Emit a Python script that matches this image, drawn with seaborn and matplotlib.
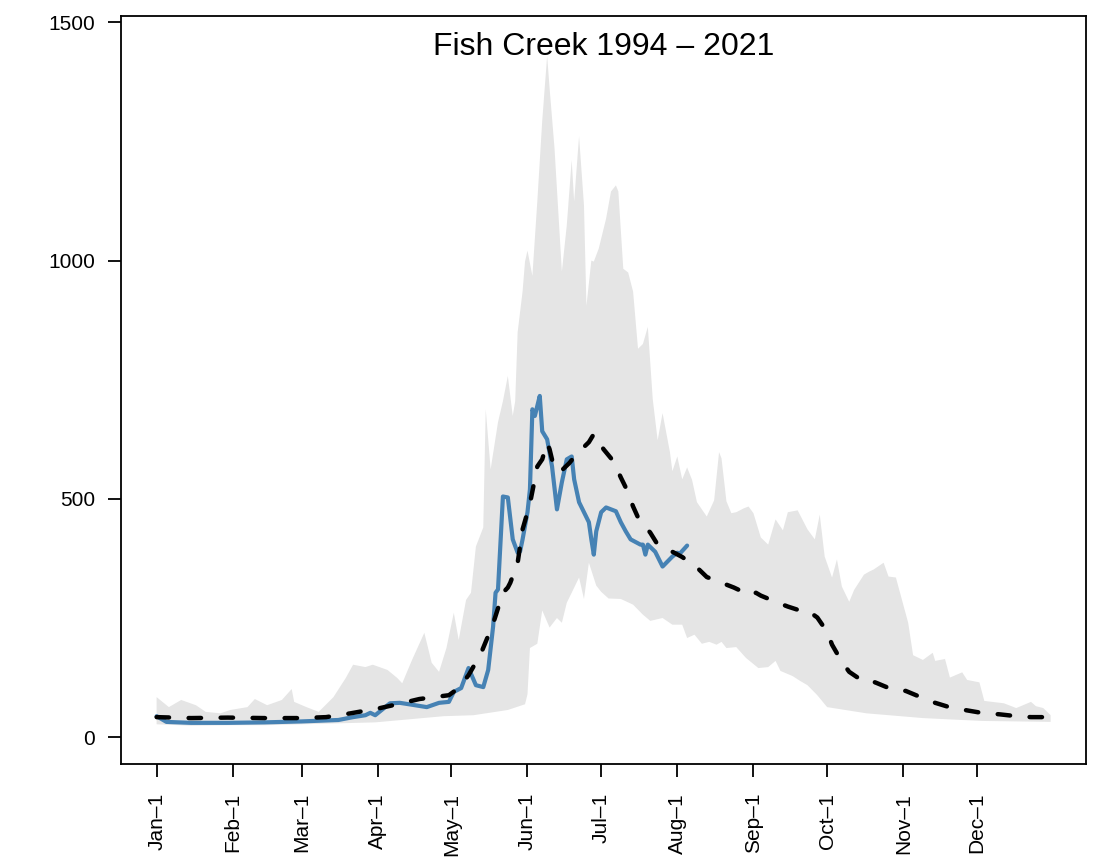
import matplotlib
matplotlib.use("Agg")
import matplotlib.pyplot as plt
import numpy as np
import pandas as pd
import seaborn as sns

# ---------------- data (day of year, discharge) ----------------
band_upper = [
    (1, 84), (6, 63), (11, 78), (17, 67), (21, 53), (27, 50), (31, 57), (38, 63),
    (41, 80), (46, 67), (52, 78), (56, 101), (57, 74), (62, 63), (67, 53), (73, 84),
    (78, 124), (81, 152), (86, 147), (89, 152), (95, 141), (99, 124), (101, 113),
    (105, 162), (110, 219), (113, 156), (116, 137), (119, 187), (122, 261), (124, 204),
    (127, 288), (129, 303), (131, 400), (134, 440), (135, 688), (137, 562), (140, 661),
    (142, 705), (144, 758), (146, 674), (147, 705), (148, 850), (150, 935), (151, 998),
    (152, 1021), (154, 968), (156, 1124), (158, 1293), (160, 1429), (161, 1362),
    (163, 1236), (166, 977), (168, 1074), (170, 1211), (171, 1124), (173, 1261),
    (175, 1116), (176, 905), (178, 1000), (179, 998), (181, 1025), (184, 1088),
    (186, 1145), (188, 1158), (189, 1145), (191, 983), (193, 975), (195, 935),
    (197, 815), (199, 825), (201, 861), (203, 709), (205, 623), (207, 680),
    (210, 598), (211, 558), (213, 589), (215, 541), (217, 566), (219, 540),
    (221, 493), (225, 463), (228, 497), (230, 598), (231, 585), (233, 495),
    (235, 470), (237, 472), (240, 480), (242, 484), (244, 470), (247, 419),
    (250, 404), (253, 457), (256, 434), (258, 472), (262, 476), (266, 436),
    (269, 415), (271, 467), (273, 379), (276, 335), (278, 373), (280, 316),
    (283, 284), (285, 309), (289, 341), (291, 347), (293, 352), (297, 366),
    (299, 337), (302, 335), (305, 278), (307, 240), (309, 172), (313, 162),
    (317, 177), (318, 160), (322, 164), (324, 125), (329, 136), (331, 120),
    (336, 115), (338, 76), (346, 71), (351, 61), (357, 74), (359, 65), (362, 61),
    (365, 46),
]

band_lower = [
    (1, 27), (15, 24), (31, 25), (45, 25), (60, 27), (75, 29), (90, 31), (105, 38),
    (118, 44), (130, 46), (144, 57), (151, 69), (152, 90), (153, 187), (156, 196),
    (158, 266), (161, 230), (164, 250), (166, 240), (168, 282), (170, 303),
    (173, 335), (175, 290), (177, 366), (180, 318), (182, 305), (185, 291),
    (190, 290), (195, 278), (199, 257), (202, 244), (207, 250), (211, 236),
    (215, 236), (217, 208), (220, 215), (223, 196), (226, 200), (229, 194),
    (231, 200), (233, 187), (237, 189), (241, 166), (246, 145), (250, 147),
    (253, 160), (255, 139), (260, 128), (263, 118), (266, 109), (270, 88),
    (274, 63), (290, 50), (313, 40), (337, 34), (365, 32),
]

median_flow = [
    (1, 42), (15, 40), (30, 41), (45, 40), (60, 40), (70, 42), (80, 50), (92, 61),
    (99, 69), (108, 80), (120, 88), (124, 103), (128, 130), (133, 175), (138, 238),
    (142, 303), (144, 314), (145, 324), (148, 366), (150, 436), (153, 490),
    (156, 568), (158, 583), (160, 618), (161, 604), (163, 561), (166, 560),
    (169, 575), (172, 594), (177, 619), (179, 636), (183, 604), (187, 579),
    (190, 545), (192, 524), (195, 484), (197, 461), (202, 429), (205, 404),
    (211, 389), (215, 378), (221, 356), (225, 336), (231, 324), (236, 314),
    (243, 297), (245, 303), (247, 297), (254, 282), (258, 274), (264, 264),
    (266, 266), (270, 251), (274, 221), (276, 194), (280, 158), (283, 137),
    (289, 116), (292, 118), (294, 114), (301, 99), (306, 97), (313, 82), (318, 72),
    (325, 61), (330, 57), (338, 50), (344, 48), (351, 44), (357, 42), (365, 42),
]

current_flow = [
    (1, 44), (5, 32), (15, 30), (30, 30), (45, 31), (60, 33), (75, 36), (81, 42),
    (86, 46), (88, 51), (90, 46), (96, 71), (100, 72), (105, 68), (111, 63),
    (116, 72), (120, 74), (122, 95), (125, 103), (128, 145), (131, 109), (134, 105),
    (136, 141), (138, 232), (139, 303), (140, 310), (142, 505), (144, 503),
    (146, 415), (148, 387), (149, 390), (150, 415), (152, 472), (153, 520),
    (154, 688), (155, 674), (156, 695), (157, 716), (158, 642), (160, 625),
    (162, 568), (164, 478), (166, 535), (168, 583), (170, 589), (171, 541),
    (173, 493), (177, 451), (178, 415), (179, 383), (180, 432), (182, 472),
    (184, 482), (186, 478), (188, 474), (190, 451), (192, 432), (194, 415),
    (198, 404), (199, 404), (200, 383), (201, 404), (204, 389), (207, 358),
    (211, 379), (213, 387), (214, 385), (217, 402),
]

tick_days = [1, 32, 60, 91, 121, 152, 182, 213, 244, 274, 305, 335]
tick_labels = ["Jan\u20131", "Feb\u20131", "Mar\u20131", "Apr\u20131", "May\u20131", "Jun\u20131",
               "Jul\u20131", "Aug\u20131", "Sep\u20131", "Oct\u20131", "Nov\u20131", "Dec\u20131"]
y_ticks = [0, 500, 1000, 1500]
title_text = "Fish Creek 1994 \u2013 2021"

# ---------------- style ----------------
sns.set_theme(style="ticks")
plt.rcParams['font.family'] = ['Liberation Sans', 'DejaVu Sans']

fig = plt.figure(figsize=(10.95, 8.61), dpi=100)
W, H = 1095.0, 861.0
ax = fig.add_axes([121 / W, (H - 764.3) / H, (1086 - 121) / W, (764.3 - 15.7) / H])

# band (range of all years)
ud, uv = zip(*band_upper)
ld, lv = zip(*band_lower)
ax.fill(list(ud) + list(ld)[::-1], list(uv) + list(lv)[::-1],
        color="#E5E5E5", lw=0, zorder=1)

df_cur = pd.DataFrame(current_flow, columns=["day", "flow"])
df_med = pd.DataFrame(median_flow, columns=["day", "flow"])

sns.lineplot(data=df_cur, x="day", y="flow", ax=ax, color="#4682B4",
             estimator=None, sort=False, zorder=3)
ln = ax.lines[-1]
ln.set_linewidth(3.0)
ln.set_solid_capstyle("round")
ln.set_solid_joinstyle("round")

sns.lineplot(data=df_med, x="day", y="flow", ax=ax, color="black",
             estimator=None, sort=False, zorder=4)
ln = ax.lines[-1]
ln.set_linewidth(3.2)
ln.set_linestyle((0, (2.8, 4.4)))
ln.set_dash_capstyle("round")
ln.set_dash_joinstyle("round")

ax.set_xlim(-13.5, 379.4)
ax.set_ylim(-57, 1514)
ax.set_xticks(tick_days)
ax.set_xticklabels(tick_labels, rotation=90)
ax.set_yticks(y_ticks)
ax.set_yticklabels([str(v) for v in y_ticks])
ax.set_xlabel("")
ax.set_ylabel("")

for s in ax.spines.values():
    s.set_visible(True)
    s.set_color("black")
    s.set_linewidth(1.3)

ax.tick_params(axis="both", direction="out", length=9.6, width=1.3,
               colors="black", labelsize=15)
ax.tick_params(axis="y", pad=9)
ax.tick_params(axis="x", pad=11)
ax.grid(False)
ax.set_facecolor("white")

ax.text(0.5, 0.9475, title_text, transform=ax.transAxes, ha="center",
        va="baseline", fontsize=23, color="black")

fig.savefig("out.png", dpi=100, facecolor="white")
